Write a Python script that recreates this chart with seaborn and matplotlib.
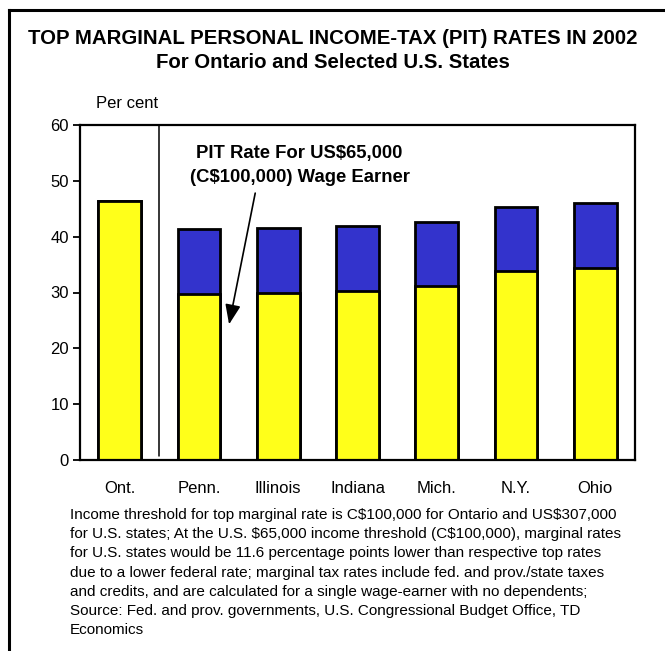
import matplotlib
matplotlib.use("Agg")
import matplotlib.pyplot as plt
from matplotlib.lines import Line2D
import seaborn as sns
import pandas as pd

# Top marginal personal income-tax rates, 2002 (per cent)
jurisdictions = ["Ont.", "Penn.", "Illinois", "Indiana", "Mich.", "N.Y.", "Ohio"]
top_rate = [46.4, 41.4, 41.6, 41.9, 42.7, 45.4, 46.0]
# Rate faced by a US$65,000 (C$100,000) wage earner
rate_at_65k = [46.4, 29.8, 30.0, 30.3, 31.1, 33.8, 34.4]
y_ticks = [0, 10, 20, 30, 40, 50, 60]

YELLOW = "#FFFF1A"
BLUE = "#3333CC"

sns.set_theme(style="white")
plt.rcParams["font.family"] = ["Liberation Sans", "DejaVu Sans"]
plt.rcParams["text.color"] = "black"
plt.rcParams["xtick.color"] = "black"
plt.rcParams["ytick.color"] = "black"

df = pd.DataFrame({"jurisdiction": jurisdictions,
                   "top": top_rate,
                   "wage": rate_at_65k})

fig = plt.figure(figsize=(6.65, 6.51), dpi=100)
ax = fig.add_axes([80 / 665, 1 - 460 / 651, 555 / 665, 335 / 651])

top_colors = [YELLOW] + [BLUE] * (len(jurisdictions) - 1)
sns.barplot(data=df, x="jurisdiction", y="top", hue="jurisdiction",
            palette=top_colors, legend=False, width=0.54,
            edgecolor="black", linewidth=2, saturation=1, ax=ax)
sns.barplot(data=df, x="jurisdiction", y="wage", color=YELLOW,
            width=0.54, edgecolor="black", linewidth=2, saturation=1, ax=ax)

ax.set_xlim(-0.5, len(jurisdictions) - 0.5)
ax.set_ylim(0, 60)
ax.set_yticks(y_ticks)
ax.set_xlabel("")
ax.set_ylabel("")

for side in ["left", "right", "top", "bottom"]:
    ax.spines[side].set_visible(True)
    ax.spines[side].set_color("black")
    ax.spines[side].set_linewidth(1.6)

ax.tick_params(axis="y", direction="out", length=5, width=1.3,
               labelsize=12, pad=3, left=True, colors="black")
ax.tick_params(axis="x", length=0, labelsize=12, pad=15, colors="black")

# Divider between Ontario and the U.S. states
ax.plot([0.5, 0.5], [0.8, 60], color="black", linewidth=1.1)

# Callout for the US$65,000 wage-earner rate
ax.text(2.27, 52.75, "PIT Rate For US\\$65,000\n(C\\$100,000) Wage Earner",
        ha="center", va="center", fontsize=13.3, fontweight="bold",
        linespacing=1.59, color="black")
ax.annotate("", xy=(1.38, 24.3), xytext=(1.71, 47.8),
            arrowprops=dict(arrowstyle="-|>,head_length=1.2,head_width=0.47",
                            mutation_scale=10, color="black", lw=1.2,
                            shrinkA=0, shrinkB=0))

fig.text(333 / 665, 1 - 39 / 651,
         "TOP MARGINAL PERSONAL INCOME-TAX (PIT) RATES IN 2002",
         ha="center", va="center", fontsize=14.7, fontweight="bold")
fig.text(333 / 665, 1 - 63 / 651, "For Ontario and Selected U.S. States",
         ha="center", va="center", fontsize=14.7, fontweight="bold")
fig.text(127 / 665, 1 - 103 / 651, "Per cent", ha="center", va="center",
         fontsize=12)

note = ("Income threshold for top marginal rate is C\\$100,000 for Ontario and US\\$307,000\n"
        "for U.S. states; At the U.S. \\$65,000 income threshold (C\\$100,000), marginal rates\n"
        "for U.S. states would be 11.6 percentage points lower than respective top rates\n"
        "due to a lower federal rate; marginal tax rates include fed. and prov./state taxes\n"
        "and credits, and are calculated for a single wage-earner with no dependents;\n"
        "Source: Fed. and prov. governments, U.S. Congressional Budget Office, TD\n"
        "Economics")
fig.text(70 / 665, 1 - 508 / 651, note, ha="left", va="top",
         fontsize=11, linespacing=1.47)

# Outer frame on the left and top, running off the page
frame_x = 9 / 665
frame_y = 1 - 10 / 651
fig.add_artist(Line2D([frame_x, frame_x], [-0.05, frame_y],
                      transform=fig.transFigure, color="black", linewidth=2.2,
                      solid_capstyle="projecting"))
fig.add_artist(Line2D([frame_x, 1.05], [frame_y, frame_y],
                      transform=fig.transFigure, color="black", linewidth=2.2,
                      solid_capstyle="projecting"))

fig.savefig("out.png", dpi=100)
